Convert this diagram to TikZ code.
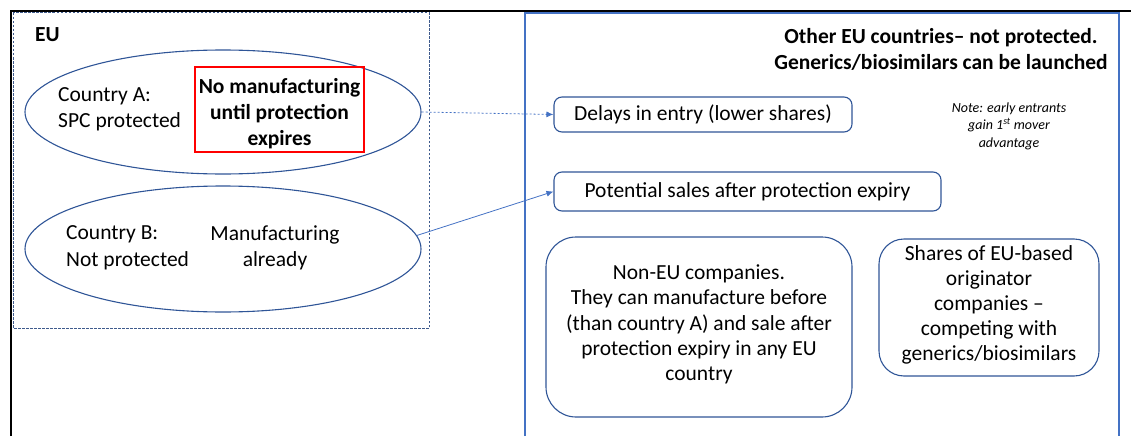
\documentclass[tikz,border=0pt]{standalone}
\usepackage{fontspec}
\setmainfont{Carlito}
\usetikzlibrary{shapes.geometric,arrows.meta}
\definecolor{navy}{HTML}{2F5597}
\definecolor{lblue}{HTML}{4472C4}
\definecolor{dgray}{HTML}{3E5A8C}
\definecolor{pred}{HTML}{FF0000}
\tikzset{
  txt/.style={inner sep=0pt,font=\fontsize{21.5}{26.5}\selectfont},
  oval/.style={ellipse,draw=navy,line width=1.1pt,inner sep=0pt,minimum width=396pt,minimum height=124pt},
  rbox/.style={draw=navy,line width=1.1pt,rounded corners=8pt,inner sep=0pt,align=center,font=\fontsize{21.5}{25}\selectfont},
  conn/.style={draw=lblue,line width=0.8pt,-{Latex[length=7pt,width=6pt]}}
}
\begin{document}
\begin{tikzpicture}[x=1pt,y=-1pt]
\useasboundingbox (0,0) rectangle (1131,436);
% outer black frame lines
\draw[black,line width=1.5pt] (11,436) -- (11,11) -- (1131,11);
% right blue frame
\draw[lblue,line width=1.2pt] (525,436) -- (525,13) -- (1119,13) -- (1119,436);
% EU dashed box
\draw[dgray,line width=1pt,dash pattern=on 2.5pt off 1.5pt] (13,13) rectangle (429,328);
\node[txt,font=\fontsize{21.5}{26}\selectfont\bfseries,anchor=west] (eu) at (35,35) {EU};
% ellipses
\node[oval] (eA) at (223,112) {};
\node[oval,minimum height=126pt] (eB) at (223,249) {};
\node[txt,anchor=west,align=left] (cA) at (58,109.5) {Country A:\\SPC protected};
\node[draw=pred,line width=2.2pt,minimum width=169pt,minimum height=85pt,inner sep=0pt] (nm) at (279.5,109.5) {};
\node[txt,align=center,font=\fontsize{21.5}{26}\selectfont\bfseries] (nmt) at (279.5,114) {No manufacturing\\until protection\\expires};
\node[txt,anchor=west,align=left] (cB) at (66,248) {Country B:\\Not protected};
\node[txt,align=center] (ma) at (275,248) {Manufacturing\\already};
% right side
\node[txt,align=center,font=\fontsize{21.5}{26}\selectfont\bfseries] (title) at (941,49.5) {Other EU countries-- not protected.\\Generics/biosimilars can be launched};
\node[rbox,minimum width=298pt,minimum height=35pt] (delay) at (703,114.5) {Delays in entry (lower shares)};
\node[rbox,minimum width=387pt,minimum height=39pt] (pot) at (747.5,191.5) {Potential sales after protection expiry};
\node[txt,align=center,font=\fontsize{14}{17.5}\selectfont\itshape] (note) at (1009,126) {Note: early entrants\\gain 1\textsuperscript{st} mover\\advantage};
\node[rbox,rounded corners=30pt,minimum width=306pt,minimum height=180pt] (nonEU) at (699,327) {};
\node[txt,align=center,font=\fontsize{21.5}{25.3}\selectfont] (nonEUt) at (699,324.5) {Non-EU companies.\\They can manufacture before\\(than country A) and sale after\\protection expiry in any EU\\country};
\node[rbox,rounded corners=25pt,minimum width=220pt,minimum height=137pt] (shares) at (989,307.5) {};
\node[txt,align=center,font=\fontsize{21.5}{25}\selectfont] (sharest) at (989,305) {Shares of EU-based\\originator\\companies --\\competing with\\generics/biosimilars};
% connectors
\draw[conn,dash pattern=on 2pt off 2pt] (eA.east) -- (delay.west);
\draw[conn] (eB.4) -- (pot.west);
\end{tikzpicture}
\end{document}
